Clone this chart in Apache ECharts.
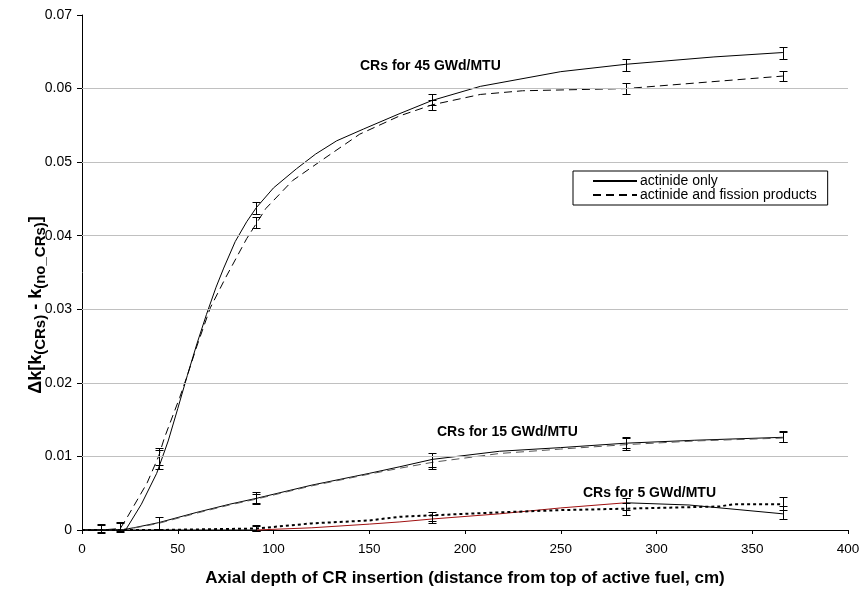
<!DOCTYPE html>
<html>
<head>
<meta charset="utf-8">
<script src="https://cdn.jsdelivr.net/npm/echarts@6/dist/echarts.min.js"></script>
<style>
html,body{margin:0;padding:0;background:#fff;}
#c{width:865px;height:592px;}
</style>
</head>
<body>
<div id="c"></div>
<script>
// ---- data ----
const xTicks = [0, 50, 100, 150, 200, 250, 300, 350, 400];
const yTicks = [0, 0.01, 0.02, 0.03, 0.04, 0.05, 0.06, 0.07];
const gridVals = [0.01, 0.02, 0.03, 0.04, 0.05, 0.06];

// 45 GWd/MTU
const x45a = [0, 10, 20, 23, 31, 39, 45, 50, 55, 60, 65, 70, 74, 80, 86, 91, 100, 112, 122, 133, 147, 165, 183, 208, 250, 284, 330, 366];
const v45a = [0, 0, 0, 0.0001, 0.0035, 0.0077, 0.0121, 0.0165, 0.0210, 0.0253, 0.0293, 0.0330, 0.0356, 0.0392, 0.0419, 0.0438, 0.0465, 0.0491, 0.0511, 0.0529, 0.0545, 0.0565, 0.0584, 0.0603, 0.0623, 0.0633, 0.0643, 0.0649];
const x45b = [0, 10, 20, 24, 34, 40, 43, 51, 55, 60, 67, 75, 86, 96, 110, 126, 145, 166, 183, 208, 230, 284, 366];
const v45b = [0, 0, 0.0002, 0.0019, 0.0064, 0.0100, 0.0125, 0.0180, 0.0210, 0.0250, 0.0302, 0.0343, 0.0396, 0.0437, 0.0475, 0.0504, 0.0538, 0.0563, 0.0578, 0.0592, 0.0597, 0.0600, 0.0617];

// 15 GWd/MTU
const x15a = [0, 20, 27, 40, 60, 77, 91, 120, 150, 166, 183, 218, 250, 284, 320, 366];
const v15a = [0, 0, 0.0003, 0.0010, 0.0024, 0.0035, 0.0043, 0.0061, 0.0077, 0.0086, 0.0096, 0.0107, 0.0112, 0.0118, 0.0122, 0.0126];
const x15b = [0, 20, 30, 40, 60, 77, 91, 120, 150, 166, 183, 218, 250, 284, 320, 366];
const v15b = [0, 0, 0.0004, 0.0009, 0.0023, 0.0034, 0.0042, 0.0060, 0.0076, 0.0084, 0.0092, 0.0104, 0.0110, 0.0116, 0.0121, 0.0125];

// 5 GWd/MTU
const x5a = [0, 40, 91, 120, 150, 166, 183, 218, 250, 284, 317, 366];
const v5a = [0, 0, 0, 0.0003, 0.0008, 0.0011, 0.0015, 0.0022, 0.0030, 0.0037, 0.0034, 0.0022];
const x5b = [0, 40, 91, 120, 150, 166, 183, 218, 250, 284, 333, 340, 366];
const v5b = [0, 0, 0.0002, 0.0009, 0.0013, 0.0018, 0.0020, 0.0024, 0.0027, 0.0029, 0.0032, 0.0035, 0.0035];

// error bars [x, value, half-width]
const eb45a = [[10, 0.0002, 0.0006], [20, 0.0004, 0.0007], [40, 0.0096, 0.0013], [91, 0.0438, 0.0008], [183, 0.0585, 0.0007], [284, 0.0632, 0.0008], [366, 0.0648, 0.0008]];
const eb45b = [[10, 0.0002, 0.0005], [20, 0.0004, 0.0006], [40, 0.0100, 0.0012], [91, 0.0418, 0.0008], [183, 0.0578, 0.0007], [284, 0.0600, 0.0008], [366, 0.0617, 0.0007]];
const eb15a = [[40, 0.0009, 0.0008], [91, 0.0044, 0.0007], [183, 0.0095, 0.0009], [284, 0.0119, 0.0008], [366, 0.0127, 0.0007]];
const eb15b = [[91, 0.0042, 0.0007], [183, 0.0092, 0.0009], [284, 0.0117, 0.0008], [366, 0.0126, 0.0007]];
const eb5a = [[91, 0.0002, 0.0004], [183, 0.0015, 0.0006], [284, 0.0035, 0.0008], [366, 0.0024, 0.0009]];
const eb5b = [[91, 0.0003, 0.0004], [183, 0.0018, 0.0006], [284, 0.0029, 0.0008], [366, 0.0036, 0.0009]];

const legendNames = ['actinide only', 'actinide and fission products'];
const labels = ['CRs for 45 GWd/MTU', 'CRs for 15 GWd/MTU', 'CRs for 5 GWd/MTU'];

// ---- chart ----
const FONT = '"Liberation Sans", Arial, sans-serif';
const zip = (xs, vs) => xs.map((x, i) => [x, vs[i]]);
const i91 = x5a.indexOf(91), i284 = x5a.indexOf(284);

function lineSeries(name, data, color, type, width) {
  return {
    name: name, type: 'line', data: data, symbol: 'none', showSymbol: false,
    smooth: false, clip: false, z: 3, silent: true,
    lineStyle: {color: color, width: width || 1, type: type || 'solid'},
    itemStyle: {color: color}
  };
}
function errSeries(data) {
  return {
    type: 'custom', data: data, z: 4, silent: true, clip: false,
    encode: {x: 0, y: 1},
    renderItem: function (params, api) {
      const x = api.value(0), y = api.value(1), e = api.value(2);
      const t = api.coord([x, y + e]), b = api.coord([x, y - e]);
      const cx = Math.round(t[0]) + 0.5;
      const ty = Math.round(t[1]) + 0.5, by = Math.round(b[1]) + 0.5;
      const st = {stroke: '#000', lineWidth: 1};
      return {type: 'group', children: [
        {type: 'line', shape: {x1: cx, y1: ty, x2: cx, y2: by}, style: st},
        {type: 'line', shape: {x1: cx - 4, y1: ty, x2: cx + 4, y2: ty}, style: st},
        {type: 'line', shape: {x1: cx - 4, y1: by, x2: cx + 4, y2: by}, style: st}
      ]};
    }
  };
}

const chart = echarts.init(document.getElementById('c'), null, {renderer: 'canvas'});
const DASH = [8, 5];
const option = {
  backgroundColor: '#fff',
  animation: false,
  textStyle: {fontFamily: FONT},
  grid: {left: 82, right: 17, top: 15, bottom: 58, containLabel: false},
  legend: {
    data: legendNames,
    left: 573, top: 171, orient: 'vertical',
    borderColor: '#000', borderWidth: 1, borderRadius: 0,
    padding: [3, 11, 3, 19], itemGap: 0,
    itemWidth: 44, itemHeight: 12,
    itemStyle: {opacity: 0},
    textStyle: {fontFamily: FONT, fontSize: 14, color: '#000', padding: [0, 0, 0, -2], lineHeight: 13},
    selectedMode: false
  },
  xAxis: {
    type: 'value', min: xTicks[0], max: xTicks[xTicks.length - 1], interval: xTicks[1] - xTicks[0],
    name: 'Axial depth of CR insertion (distance from top of active fuel, cm)',
    nameLocation: 'middle', nameGap: 40,
    nameTextStyle: {fontFamily: FONT, fontSize: 17, fontWeight: 'bold', color: '#000'},
    axisLine: {show: true, onZero: false, lineStyle: {color: '#000', width: 1}},
    axisTick: {show: true, inside: false, length: 4, lineStyle: {color: '#000'}},
    axisLabel: {fontFamily: FONT, fontSize: 13.5, color: '#000', margin: 12},
    splitLine: {show: false}
  },
  yAxis: {
    type: 'value', min: yTicks[0], max: yTicks[yTicks.length - 1], interval: yTicks[1] - yTicks[0],
    axisLine: {show: true, lineStyle: {color: '#000', width: 1}},
    axisTick: {show: true, inside: false, length: 5, lineStyle: {color: '#000'}},
    axisLabel: {fontFamily: FONT, fontSize: 14, color: '#000', margin: 10,
      formatter: v => v === 0 ? '0' : v.toFixed(2)},
    splitLine: {show: false}
  },
  graphic: [
    {type: 'text', x: 36, y: 305, rotation: Math.PI / 2, z: 10,
      style: {
        text: '{b|Δk[k}{s|(CRs)}{b| - k}{s|(no_CRs)}{b|]}',
        align: 'center', verticalAlign: 'middle',
        rich: {
          b: {fontFamily: FONT, fontSize: 18, fontWeight: 'bold', fill: '#000', lineHeight: 24, verticalAlign: 'middle'},
          s: {fontFamily: FONT, fontSize: 15, fontWeight: 'bold', fill: '#000', lineHeight: 24, verticalAlign: 'bottom'}
        }
      }},
    {type: 'text', x: 360, y: 66, style: {text: labels[0], font: 'bold 14px ' + FONT, fill: '#000', verticalAlign: 'middle'}},
    {type: 'text', x: 437, y: 432, style: {text: labels[1], font: 'bold 14px ' + FONT, fill: '#000', verticalAlign: 'middle'}},
    {type: 'text', x: 583, y: 493, style: {text: labels[2], font: 'bold 14px ' + FONT, fill: '#000', verticalAlign: 'middle'}}
  ],
  series: [
    {
      name: 'grid', type: 'line', data: [], z: 1, silent: true,
      markLine: {
        silent: true, symbol: 'none', label: {show: false},
        lineStyle: {color: '#c0c0c0', width: 1, type: 'solid'},
        data: gridVals.map(v => ({yAxis: v}))
      }
    },
    lineSeries(legendNames[0], zip(x45a, v45a), '#000', 'solid', 1),
    lineSeries(legendNames[1], zip(x45b, v45b), '#000', DASH, 1),
    lineSeries('15 actinide only', zip(x15a, v15a), '#000', 'solid', 1),
    lineSeries('15 actinide and FP', zip(x15b, v15b), '#555', DASH, 1),
    lineSeries('5 actinide only a', zip(x5a, v5a).slice(0, i91 + 1), '#000', 'solid', 1),
    lineSeries('5 actinide only b', zip(x5a, v5a).slice(i91, i284 + 1), '#a01010', 'solid', 1),
    lineSeries('5 actinide only c', zip(x5a, v5a).slice(i284), '#000', 'solid', 1),
    lineSeries('5 actinide and FP', zip(x5b, v5b), '#000', [3, 3], 2),
    errSeries(eb45a), errSeries(eb45b), errSeries(eb15a), errSeries(eb15b), errSeries(eb5a), errSeries(eb5b)
  ]
};
chart.setOption(option);
</script>
</body>
</html>
